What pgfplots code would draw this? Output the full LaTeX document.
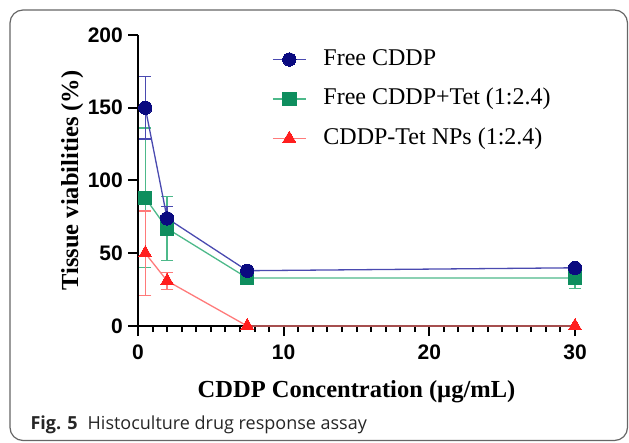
\documentclass[border=0pt]{standalone}
\usepackage{pgfplots}
\pgfplotsset{compat=1.18}
\usepackage{fontspec}
\setmainfont{Liberation Serif}
\newfontfamily\arialfont{Liberation Sans}
\newfontfamily\capfont{Open Sans}

\definecolor{bmark}{HTML}{0A0A80}
\definecolor{bline}{HTML}{4A4AB0}
\definecolor{gmark}{HTML}{0E8E5E}
\definecolor{gline}{HTML}{4DB98A}
\definecolor{rmark}{HTML}{FF1E1E}
\definecolor{rline}{HTML}{FF7A7A}

% x, y, error (only points with a visible error bar)
\pgfplotstableread{
x y e
0.5 150 21.5
2 74 8
}\blueerr
\pgfplotstableread{
x y e
0.5 88 48
2 67 22
30 33 7
}\greenerr
\pgfplotstableread{
x y e
0.5 50 29
2 31 6
}\rederr

\begin{document}
\begin{tikzpicture}
\path[use as bounding box] (0,0) rectangle (629pt,442pt);
\draw[rounded corners=13pt, line width=1.2pt, black!60] (10pt,1.5pt) rectangle (627.5pt,432pt);
\node[anchor=base west, font=\fontsize{18}{18}\selectfont\capfont, black!85] at (27pt,13pt)
  {\textbf{Fig. 5}\hspace{10pt}Histoculture drug response assay};
\begin{axis}[
  at={(138pt,116pt)}, anchor=south west,
  scale only axis, width=437pt, height=291pt,
  xmin=0, xmax=30, ymin=0, ymax=200,
  axis x line=bottom, axis y line=left,
  axis line style={-, line width=2.3pt},
  clip=false,
  xtick={0,10,20,30}, ytick={0,50,100,150,200},
  minor x tick num=9,
  xtick pos=bottom, ytick pos=left,
  xtick align=outside, ytick align=outside,
  major tick length=10pt, minor tick length=6pt,
  xtick style={black, line width=2pt},
  ytick style={black, line width=2pt},
  every minor tick/.append style={line width=1.8pt},
  /pgf/number format/assume math mode=true,
  tick label style={font=\fontsize{21}{21}\selectfont\arialfont\bfseries},
  xticklabel style={inner sep=0pt, yshift=-9pt},
  yticklabel style={inner sep=0pt, xshift=-5pt},
  xlabel={CDDP Concentration (µg/mL)},
  ylabel={Tissue viabilities (\%)},
  label style={font=\fontsize{24.5}{24.5}\selectfont\bfseries},
  xlabel style={at={(axis description cs:0.5,-0.244)}, anchor=base},
  ylabel style={at={(axis description cs:-0.137,0.5)}, anchor=base},
  legend style={at={(axis description cs:0.3066,0.956)}, anchor=north west,
    draw=none, fill=none, font=\fontsize{24}{24}\selectfont,
    row sep=16.5pt, column sep=17pt, inner sep=0pt,
    nodes={inner sep=0pt, text height=17pt, text depth=6pt}},
  legend cell align=left,
  legend image code/.code={
    \draw[mark repeat=2, mark phase=2, #1] plot coordinates {(0pt,0pt) (16.5pt,0pt) (33pt,0pt)};},
]
% error bars
\addplot[gline, only marks, mark=none, forget plot,
  error bars/.cd, y dir=both, y explicit,
  error bar style={line width=1.3pt, gline},
  error mark options={rotate=90, mark size=6pt, line width=1.3pt, gline}]
  table[x=x, y=y, y error=e] {\greenerr};
\addplot[rline, only marks, mark=none, forget plot,
  error bars/.cd, y dir=both, y explicit,
  error bar style={line width=1.3pt, rline},
  error mark options={rotate=90, mark size=6pt, line width=1.3pt, rline}]
  table[x=x, y=y, y error=e] {\rederr};
\addplot[bline, only marks, mark=none, forget plot,
  error bars/.cd, y dir=both, y explicit,
  error bar style={line width=1.3pt, bline},
  error mark options={rotate=90, mark size=6pt, line width=1.3pt, bline}]
  table[x=x, y=y, y error=e] {\blueerr};
% series
\addplot[gline, line width=1.3pt, mark=square*, mark size=6.7pt,
  mark options={fill=gmark, draw=gmark, line width=0pt}, forget plot]
  coordinates {(0.5,88) (2,67) (7.5,33) (30,33)};
\addplot[rline, line width=1.3pt, mark=triangle*, mark size=7.5pt,
  mark options={fill=rmark, draw=rmark, line width=0pt}, forget plot]
  coordinates {(0.5,50) (2,31) (7.5,0) (30,0)};
\addplot[bline, line width=1.3pt, mark=*, mark size=6.7pt,
  mark options={fill=bmark, draw=bmark, line width=0pt}, forget plot]
  coordinates {(0.5,150) (2,74) (7.5,38) (30,40)};
% legend
\addlegendimage{bline, line width=1.3pt, mark=*, mark size=6.7pt, mark options={fill=bmark, draw=bmark, line width=0pt}}
\addlegendentry{Free CDDP}
\addlegendimage{gline, line width=1.3pt, mark=square*, mark size=6.7pt, mark options={fill=gmark, draw=gmark, line width=0pt}}
\addlegendentry{Free CDDP+Tet (1:2.4)}
\addlegendimage{rline, line width=1.3pt, mark=triangle*, mark size=7.5pt, mark options={fill=rmark, draw=rmark, line width=0pt}}
\addlegendentry{CDDP-Tet NPs (1:2.4)}
\end{axis}
\end{tikzpicture}
\end{document}
